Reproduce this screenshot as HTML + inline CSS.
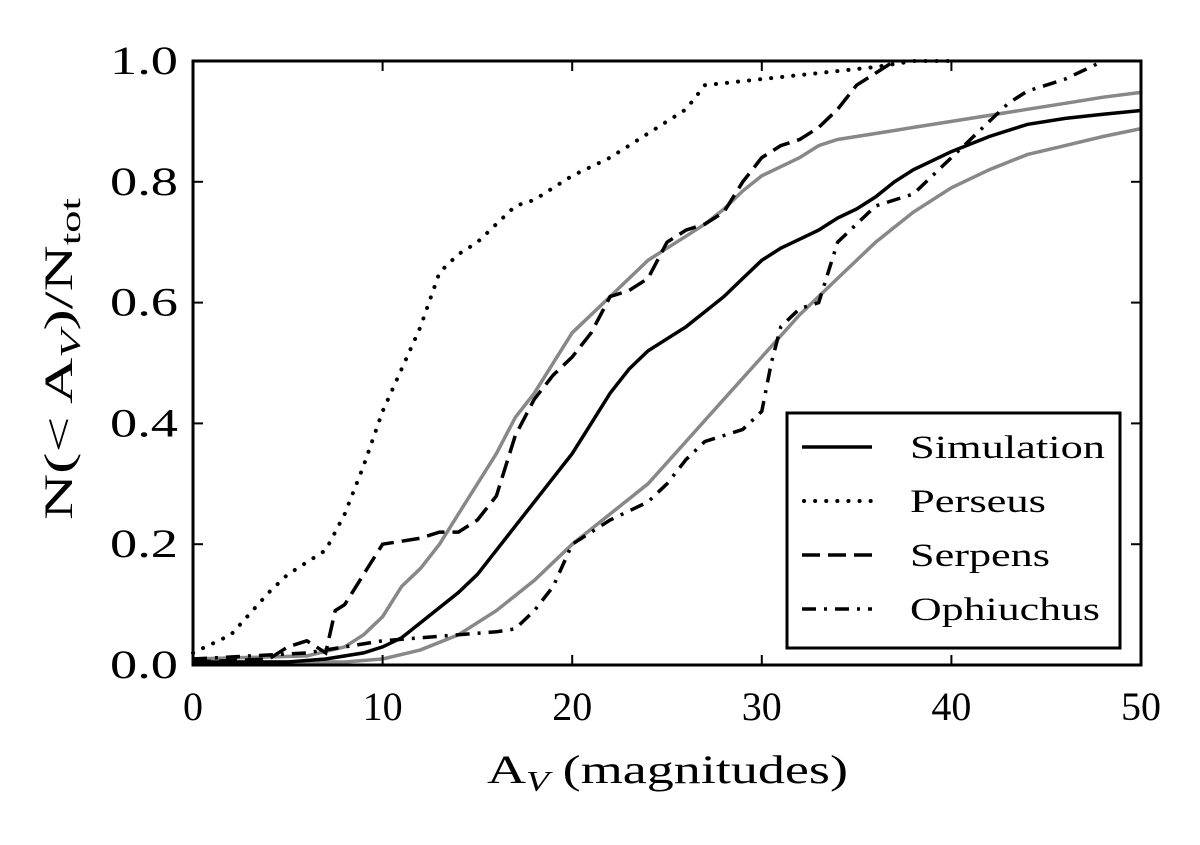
<!DOCTYPE html>
<html><head><meta charset="utf-8"><style>
html,body{margin:0;padding:0;background:#fff;}
svg text{font-family:"Liberation Serif",serif;fill:#000;}
</style></head><body>
<svg width="1200" height="840" viewBox="0 0 1200 840">
<g id="series"></g>
<rect x="193" y="61" width="948" height="604" fill="none" stroke="#000" stroke-width="3"/>
<g id="ticks"></g>
<text x="487" y="783" font-size="40" textLength="361" lengthAdjust="spacingAndGlyphs">A<tspan font-style="italic" font-size="28" dy="8">V</tspan><tspan dy="-8"> (magnitudes)</tspan></text>
<text transform="translate(72,520) rotate(-90)" font-size="40" textLength="322" lengthAdjust="spacingAndGlyphs">N(&lt; A<tspan font-style="italic" font-size="28" dy="8">V</tspan><tspan dy="-8">)/N</tspan><tspan font-size="28" dy="8">tot</tspan></text>
<g>
<rect x="787" y="413" width="333" height="235" fill="#fff" stroke="#000" stroke-width="3"/>
<line x1="802" y1="447" x2="872" y2="447" stroke="#000" stroke-width="3.5"/>
<text x="910" y="458" font-size="33" textLength="195" lengthAdjust="spacingAndGlyphs">Simulation</text>
<line x1="804" y1="501" x2="872" y2="501" stroke="#000" stroke-width="4" stroke-linecap="round" stroke-dasharray="0.1,11"/>
<text x="910" y="512" font-size="33" textLength="136" lengthAdjust="spacingAndGlyphs">Perseus</text>
<line x1="802" y1="555" x2="872" y2="555" stroke="#000" stroke-width="3.5" stroke-dasharray="18,8"/>
<text x="910" y="566" font-size="33" textLength="140" lengthAdjust="spacingAndGlyphs">Serpens</text>
<line x1="802" y1="609" x2="872" y2="609" stroke="#000" stroke-width="3.5" stroke-dasharray="14,8,3,8"/>
<text x="910" y="620" font-size="33" textLength="190" lengthAdjust="spacingAndGlyphs">Ophiuchus</text>
</g>
</svg>
<script>
const xTicks=[0,10,20,30,40,50];
const yTicks=[0.0,0.2,0.4,0.6,0.8,1.0];
const yTickLabels=["0.0","0.2","0.4","0.6","0.8","1.0"];
const simX=[0,5,7,9,10,11,12,13,14,15,16,17,18,19,20,21,22,23,24,25,26,27,28,29,30,31,32,33,34,35,36,37,38,39,40,42,44,46,48,50];
const simY=[0.005,0.005,0.01,0.02,0.03,0.045,0.07,0.095,0.12,0.15,0.19,0.23,0.27,0.31,0.35,0.40,0.45,0.49,0.52,0.54,0.56,0.585,0.61,0.64,0.67,0.69,0.705,0.72,0.74,0.755,0.775,0.80,0.82,0.835,0.85,0.875,0.895,0.905,0.912,0.918];
const upX=[0,6,8,9,10,11,12,13,14,15,16,17,18,19,20,21,22,23,24,25,26,27,28,29,30,31,32,33,34,36,38,40,42,44,46,48,50];
const upY=[0.01,0.015,0.03,0.05,0.08,0.13,0.16,0.20,0.25,0.30,0.35,0.41,0.45,0.50,0.55,0.58,0.61,0.64,0.67,0.69,0.71,0.73,0.755,0.785,0.81,0.825,0.84,0.86,0.87,0.88,0.89,0.90,0.91,0.92,0.93,0.94,0.948];
const loX=[0,8,10,12,14,16,18,20,22,24,26,28,30,32,34,36,38,40,42,44,46,48,50];
const loY=[0.005,0.005,0.01,0.025,0.05,0.09,0.14,0.20,0.25,0.30,0.37,0.44,0.51,0.58,0.64,0.70,0.75,0.79,0.82,0.845,0.86,0.875,0.888];
const perX=[0,2,4,5,6,7,8,9,10,11,12,13,14,15,16,17,18,19,20,22,24,26,27,30,33,36,38,40];
const perY=[0.02,0.05,0.12,0.15,0.17,0.19,0.25,0.33,0.42,0.49,0.56,0.65,0.68,0.70,0.73,0.76,0.77,0.79,0.81,0.84,0.88,0.92,0.96,0.97,0.98,0.99,1.0,1.0];
const serX=[0,4,5,6,7,7.5,8,9,10,12,13,14,15,16,17,18,19,20,21,22,23,24,25,26,27,28,29,30,31,32,33,34,35,36,37];
const serY=[0.005,0.01,0.03,0.04,0.02,0.09,0.10,0.15,0.20,0.21,0.22,0.22,0.24,0.28,0.38,0.44,0.48,0.51,0.55,0.61,0.62,0.64,0.70,0.72,0.73,0.75,0.80,0.84,0.86,0.87,0.89,0.92,0.96,0.98,1.0];
const ophX=[0,6,8,10,12,14,16,17,18,19,20,21,22,24,25,26,27,28,29,30,30.5,31,32,33,34,35,36,38,40,41,42,43,44,46,48];
const ophY=[0.01,0.02,0.03,0.04,0.045,0.05,0.055,0.06,0.09,0.13,0.20,0.22,0.24,0.27,0.30,0.34,0.37,0.38,0.39,0.42,0.50,0.56,0.59,0.60,0.70,0.73,0.76,0.78,0.84,0.87,0.90,0.93,0.95,0.97,1.0];

const NS="http://www.w3.org/2000/svg";
const X0=193,X1=1141,Y0=665,Y1=61;
function sx(v){return X0+(v-0)/(50-0)*(X1-X0);}
function sy(v){return Y0-(v-0)/(1-0)*(Y0-Y1);}
const g=document.getElementById('series');
function line(xs,ys,color,dash,name,cap){
  const p=document.createElementNS(NS,'path');
  let d='';
  for(let i=0;i<xs.length;i++){d+=(i?'L':'M')+sx(xs[i]).toFixed(1)+','+sy(ys[i]).toFixed(1);}
  p.setAttribute('d',d);
  p.setAttribute('fill','none');
  p.setAttribute('stroke',color);
  p.setAttribute('stroke-width',cap?'4':'3.5');
  if(cap)p.setAttribute('stroke-linecap','round');
  if(dash)p.setAttribute('stroke-dasharray',dash);
  
  
  g.appendChild(p);
}
line(upX,upY,'#888','', 'simulation-upper-bound');
line(loX,loY,'#888','', 'simulation-lower-bound');
line(simX,simY,'#000','', 'simulation-line');
line(perX,perY,'#000','0.1,11', 'perseus-line',true);
line(serX,serY,'#000','18,8', 'serpens-line');
line(ophX,ophY,'#000','14,8,3,8', 'ophiuchus-line');

const t=document.getElementById('ticks');
xTicks.forEach(v=>{
  const x=sx(v);
  [[Y0,Y0-10],[Y1,Y1+10]].forEach(([a,b])=>{
    const l=document.createElementNS(NS,'line');
    l.setAttribute('x1',x);l.setAttribute('x2',x);l.setAttribute('y1',a);l.setAttribute('y2',b);
    l.setAttribute('stroke','#000');l.setAttribute('stroke-width','2');
    
    
    t.appendChild(l);
  });
  const tx=document.createElementNS(NS,'text');
  tx.setAttribute('x',x);tx.setAttribute('y',Y0+55);tx.setAttribute('font-size','40');tx.setAttribute('text-anchor','middle');
  tx.textContent=String(v);
  
  
  t.appendChild(tx);
});
yTicks.forEach((v,i)=>{
  const y=sy(v);
  [[X0,X0+10],[X1,X1-10]].forEach(([a,b])=>{
    const l=document.createElementNS(NS,'line');
    l.setAttribute('y1',y);l.setAttribute('y2',y);l.setAttribute('x1',a);l.setAttribute('x2',b);
    l.setAttribute('stroke','#000');l.setAttribute('stroke-width','2');
    
    
    t.appendChild(l);
  });
  const tx=document.createElementNS(NS,'text');
  tx.setAttribute('x',110);tx.setAttribute('y',y+13);tx.setAttribute('font-size','40');
  tx.setAttribute('textLength','68');tx.setAttribute('lengthAdjust','spacingAndGlyphs');
  tx.textContent=yTickLabels[i];
  
  
  t.appendChild(tx);
});
</script>
</body></html>
